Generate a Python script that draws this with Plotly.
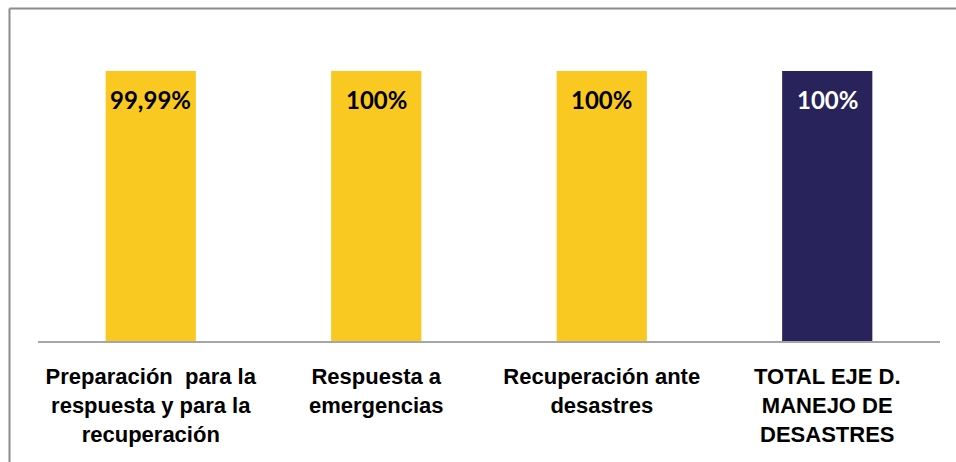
import plotly.graph_objects as go

categories = [
    "Preparación  para la<br>respuesta y para la<br>recuperación",
    "Respuesta a<br>emergencias",
    "Recuperación ante<br>desastres",
    "TOTAL EJE D.<br>MANEJO DE<br>DESASTRES",
]
values = [99.99, 100, 100, 100]
value_labels = ["99,99%", "100%", "100%", "100%"]
bar_colors = ["#F9C821", "#F9C821", "#F9C821", "#29235C"]
label_colors = ["#000000", "#000000", "#000000", "#FFFFFF"]

W, H = 956, 462
ml, mr, mt, mb = 38, 16, 17, 121
pw = W - ml - mr
ph = H - mt - mb

fig = go.Figure(
    go.Bar(
        x=categories,
        y=values,
        marker=dict(color=bar_colors, line=dict(width=0)),
        hoverinfo="skip",
    )
)

for cat, val, lab, col in zip(categories, values, value_labels, label_colors):
    fig.add_annotation(
        x=cat, y=val, text=lab, showarrow=False,
        yanchor="middle", yshift=-28,
        font=dict(family="Lato, Open Sans, sans-serif", size=24, color=col, weight="bold"),
    )

fig.update_layout(
    width=W,
    height=H,
    margin=dict(l=ml, r=mr, t=mt, b=mb, pad=0),
    paper_bgcolor="white",
    plot_bgcolor="white",
    bargap=0.6,
    showlegend=False,
    xaxis=dict(
        showline=True,
        linecolor="#A6A6A6",
        linewidth=2,
        ticks="",
        showgrid=False,
        tickfont=dict(family="Liberation Sans Narrow, Arial Narrow, Liberation Sans, Arial, sans-serif",
                      size=22, color="#000000", weight="bold"),
        ticklabelstandoff=15,
    ),
    yaxis=dict(range=[0, 120], visible=False, showgrid=False, zeroline=False),
    shapes=[
        dict(type="line", xref="paper", yref="paper",
             x0=(9.5 - ml) / pw, x1=(W - ml) / pw + 0.01,
             y0=(H - mb - 8.5) / ph, y1=(H - mb - 8.5) / ph,
             line=dict(color="#8C8C8C", width=2)),
        dict(type="line", xref="paper", yref="paper",
             x0=(9.5 - ml) / pw, x1=(9.5 - ml) / pw,
             y0=(H - mb - 8.5) / ph, y1=(H - mb - H - 5) / ph,
             line=dict(color="#8C8C8C", width=2)),
    ],
)

fig.write_html(
    "out.html",
    config={"displayModeBar": False},
    post_script="document.body.style.margin='0';document.body.style.padding='0';",
)
